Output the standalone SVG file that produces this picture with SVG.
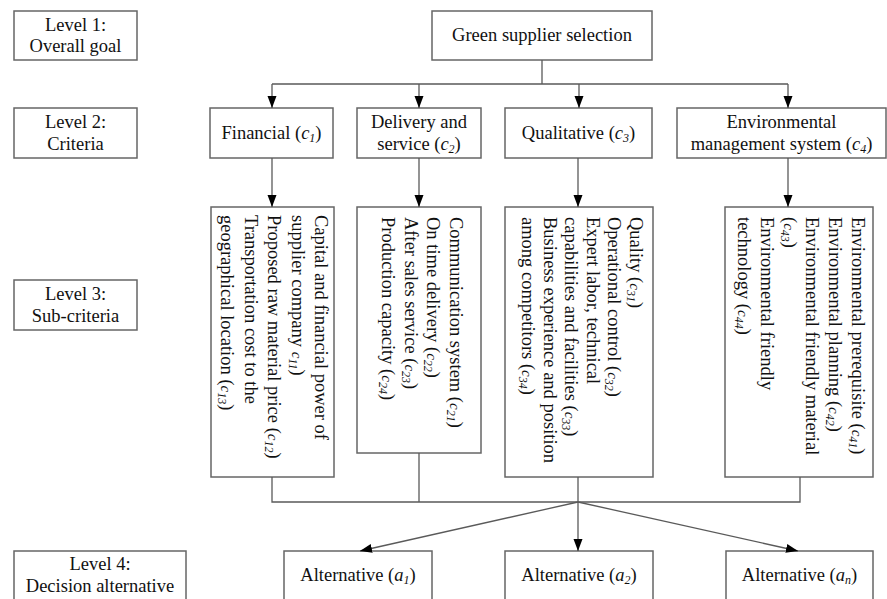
<svg xmlns="http://www.w3.org/2000/svg" width="887" height="599" viewBox="0 0 887 599">
<defs>
<marker id="arr" markerUnits="userSpaceOnUse" markerWidth="13" markerHeight="10" refX="12" refY="4.5" orient="auto">
<path d="M0,0 L12,4.5 L0,9 z" fill="#000"/>
</marker>
<style>
.box{fill:#fff;stroke:#666;stroke-width:1.5}
.t{font-size:18.5px;fill:#111}
.c{text-anchor:middle}
.ln{fill:none;stroke:#5a5a5a;stroke-width:1.3}
.i{font-style:italic}
.s{font-style:italic;font-size:12px}
</style>
</defs>
<rect width="887" height="599" fill="#fff"/>
<g font-family="Liberation Serif, DejaVu Serif, serif">
<g id="level1"><rect class="box" x="14" y="11" width="123" height="49"/>
<text class="t c" x="75.5" y="31">Level 1:</text><text class="t c" x="75.5" y="52">Overall goal</text></g>
<g id="level2"><rect class="box" x="14" y="108" width="123" height="50"/>
<text class="t c" x="75.5" y="128">Level 2:</text><text class="t c" x="75.5" y="150">Criteria</text></g>
<g id="level3"><rect class="box" x="14" y="280" width="123" height="50"/>
<text class="t c" x="75.5" y="300">Level 3:</text><text class="t c" x="75.5" y="322">Sub-criteria</text></g>
<g id="level4"><rect class="box" x="14" y="551" width="172" height="60"/>
<text class="t c" x="100" y="570">Level 4:</text><text class="t c" x="100" y="592">Decision alternative</text></g>

<g id="goal"><rect class="box" x="432" y="11" width="220" height="49"/>
<text class="t c" x="542" y="41">Green supplier selection</text></g>

<g id="c1"><rect class="box" x="210" y="108" width="123" height="50"/>
<text class="t c" x="271.5" y="139">Financial (<tspan class="i">c</tspan><tspan class="s" dy="3">1</tspan><tspan dy="-3">)</tspan></text></g>
<g id="c2"><rect class="box" x="357" y="108" width="124" height="50"/>
<text class="t c" x="419" y="128">Delivery and</text><text class="t c" x="419" y="150">service (<tspan class="i">c</tspan><tspan class="s" dy="3">2</tspan><tspan dy="-3">)</tspan></text></g>
<g id="c3"><rect class="box" x="505" y="108" width="147" height="50"/>
<text class="t c" x="578.5" y="139">Qualitative (<tspan class="i">c</tspan><tspan class="s" dy="3">3</tspan><tspan dy="-3">)</tspan></text></g>
<g id="c4"><rect class="box" x="677" y="108" width="209" height="50"/>
<text class="t c" x="781.5" y="128">Environmental</text><text class="t c" x="781.5" y="150">management system (<tspan class="i">c</tspan><tspan class="s" dy="3">4</tspan><tspan dy="-3">)</tspan></text></g>

<g id="sub1"><rect class="box" x="211" y="207" width="123" height="270"/>
<g transform="translate(315,215) rotate(90)">
<text class="t" x="0" y="0">Capital and financial power of</text>
<text class="t" x="0" y="23.5">supplier company <tspan class="i" font-size="15">c</tspan><tspan class="s" dy="3">11</tspan><tspan dy="-3">)</tspan></text>
<text class="t" x="0" y="47">Proposed raw material price (<tspan class="i" font-size="15">c</tspan><tspan class="s" dy="3">12</tspan><tspan dy="-3">)</tspan></text>
<text class="t" x="0" y="70.5">Transportation cost to the</text>
<text class="t" x="0" y="94">geographical location (<tspan class="i" font-size="15">c</tspan><tspan class="s" dy="3">13</tspan><tspan dy="-3">)</tspan></text>
</g></g>

<g id="sub2"><rect class="box" x="357" y="207" width="124" height="246"/>
<g transform="translate(450,217) rotate(90)">
<text class="t" x="0" y="0">Communication system (<tspan class="i" font-size="15">c</tspan><tspan class="s" dy="3">21</tspan><tspan dy="-3">)</tspan></text>
<text class="t" x="0" y="22.7">On time delivery (<tspan class="i" font-size="15">c</tspan><tspan class="s" dy="3">22</tspan><tspan dy="-3">)</tspan></text>
<text class="t" x="0" y="45.4">After sales service (<tspan class="i" font-size="15">c</tspan><tspan class="s" dy="3">23</tspan><tspan dy="-3">)</tspan></text>
<text class="t" x="0" y="68.1">Production capacity (<tspan class="i" font-size="15">c</tspan><tspan class="s" dy="3">24</tspan><tspan dy="-3">)</tspan></text>
</g></g>

<g id="sub3"><rect class="box" x="505" y="207" width="148" height="270"/>
<g transform="translate(630,217) rotate(90)">
<text class="t" x="0" y="0">Quality (<tspan class="i" font-size="15">c</tspan><tspan class="s" dy="3">31</tspan><tspan dy="-3">)</tspan></text>
<text class="t" x="0" y="21.6">Operational control (<tspan class="i" font-size="15">c</tspan><tspan class="s" dy="3">32</tspan><tspan dy="-3">)</tspan></text>
<text class="t" x="0" y="43.2">Expert labor, technical</text>
<text class="t" x="0" y="64.8">capabilities and facilities (<tspan class="i" font-size="15">c</tspan><tspan class="s" dy="3">33</tspan><tspan dy="-3">)</tspan></text>
<text class="t" x="0" y="86.4">Business experience and position</text>
<text class="t" x="0" y="108">among competitors (<tspan class="i" font-size="15">c</tspan><tspan class="s" dy="3">34</tspan><tspan dy="-3">)</tspan></text>
</g></g>

<g id="sub4"><rect class="box" x="725" y="207" width="148" height="270"/>
<g transform="translate(852,217) rotate(90)">
<text class="t" x="0" y="0">Environmental prerequisite (<tspan class="i" font-size="15">c</tspan><tspan class="s" dy="3">41</tspan><tspan dy="-3">)</tspan></text>
<text class="t" x="0" y="22.8">Environmental planning (<tspan class="i" font-size="15">c</tspan><tspan class="s" dy="3">42</tspan><tspan dy="-3">)</tspan></text>
<text class="t" x="0" y="45.6">Environmental friendly material</text>
<text class="t" x="0" y="68.4">(<tspan class="i" font-size="15">c</tspan><tspan class="s" dy="3">43</tspan><tspan dy="-3">)</tspan></text>
<text class="t" x="0" y="91.2">Environmental friendly</text>
<text class="t" x="0" y="114">technology (<tspan class="i" font-size="15">c</tspan><tspan class="s" dy="3">44</tspan><tspan dy="-3">)</tspan></text>
</g></g>

<g id="a1"><rect class="box" x="284" y="551" width="148" height="60"/>
<text class="t c" x="358" y="581">Alternative (<tspan class="i">a</tspan><tspan class="s" dy="3">1</tspan><tspan dy="-3">)</tspan></text></g>
<g id="a2"><rect class="box" x="505" y="551" width="148" height="60"/>
<text class="t c" x="579" y="581">Alternative (<tspan class="i">a</tspan><tspan class="s" dy="3">2</tspan><tspan dy="-3">)</tspan></text></g>
<g id="an"><rect class="box" x="726" y="551" width="147" height="60"/>
<text class="t c" x="799.5" y="581">Alternative (<tspan class="i">a</tspan><tspan class="s" dy="3">n</tspan><tspan dy="-3">)</tspan></text></g>
</g>
<g id="connectors">
<path class="ln" d="M542,60 V84 M272,84 H788"/>
<path class="ln" d="M272,84 V108" marker-end="url(#arr)"/>
<path class="ln" d="M419,84 V108" marker-end="url(#arr)"/>
<path class="ln" d="M579,84 V108" marker-end="url(#arr)"/>
<path class="ln" d="M788,84 V108" marker-end="url(#arr)"/>
<path class="ln" d="M272,158 V207" marker-end="url(#arr)"/>
<path class="ln" d="M419,158 V207" marker-end="url(#arr)"/>
<path class="ln" d="M578,158 V207" marker-end="url(#arr)"/>
<path class="ln" d="M788,158 V207" marker-end="url(#arr)"/>
<path class="ln" d="M272,477 V502 H800 V477 M419,453 V502 M578,477 V502"/>
<path class="ln" d="M578,502 L360,551" marker-end="url(#arr)"/>
<path class="ln" d="M578,502 V551" marker-end="url(#arr)"/>
<path class="ln" d="M578,502 L798,551" marker-end="url(#arr)"/>
</g>
</svg>
